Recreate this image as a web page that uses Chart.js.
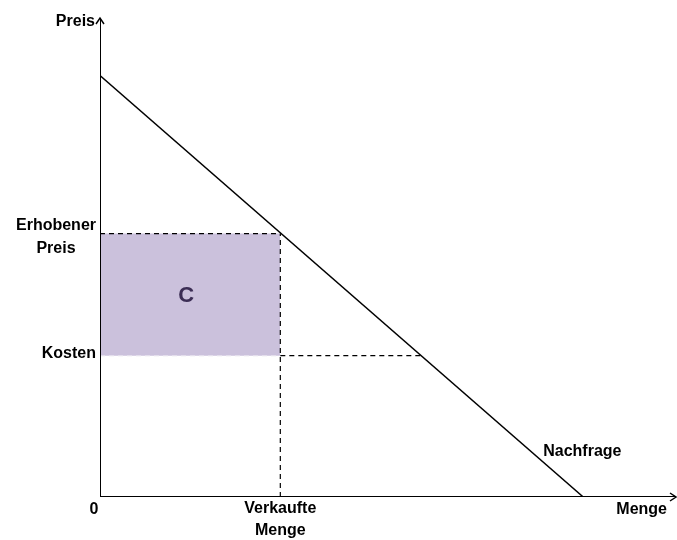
<!DOCTYPE html>
<html><head><meta charset="utf-8">
<script src="https://cdn.jsdelivr.net/npm/chart.js@4/dist/chart.umd.min.js"></script>
<style>html,body{margin:0;padding:0;background:#fff}#wrap{width:677px;height:540px}</style>
</head><body><div id="wrap"><canvas id="c" width="677" height="540"></canvas></div>
<script>
// Values (arbitrary units)
const axisMax = { q: 12, p: 10 };
const demandPriceIntercept = 8.8;
const demandQtyIntercept = 10.05;
const chargedPrice = 5.5;
const soldQty = 3.75;
const cost = 2.95;
const costQtyOnDemand = 6.68;
const yLabels = ["Erhobener\nPreis", "Kosten"];
const xLabels = ["0", "Verkaufte\nMenge"];
const axisTitles = { x: "Menge", y: "Preis" };
const curveLabel = "Nachfrage";
const areaLabel = "C";

const FONT = "'Liberation Sans', Arial, sans-serif";

const annotations = {
  id: 'annotations',
  afterDatasetsDraw(chart) {
    const ctx = chart.ctx, xs = chart.scales.x, ys = chart.scales.y;
    const X = v => xs.getPixelForValue(v), Y = v => ys.getPixelForValue(v);
    ctx.save();
    // arrowheads
    ctx.strokeStyle = '#000'; ctx.lineWidth = 1.5;
    const tx = X(0), ty = Y(axisMax.p);
    ctx.beginPath(); ctx.moveTo(tx - 4, ty + 6); ctx.lineTo(tx, ty); ctx.lineTo(tx + 4, ty + 6); ctx.stroke();
    const rx = X(axisMax.q) - 1, ry = Y(0);
    ctx.beginPath(); ctx.moveTo(rx - 6, ry - 4); ctx.lineTo(rx, ry); ctx.lineTo(rx - 6, ry + 4); ctx.stroke();

    ctx.fillStyle = '#000';
    ctx.font = "bold 16px " + FONT;
    ctx.textBaseline = 'middle';
    // y title
    ctx.textAlign = 'right';
    ctx.fillText(axisTitles.y, X(0) - 5, Y(axisMax.p) + 4);
    // y labels
    ctx.textAlign = 'center';
    const l1 = yLabels[0].split('\n');
    ctx.fillText(l1[0], X(0) - 44, Y(chargedPrice) - 8);
    ctx.fillText(l1[1], X(0) - 44, Y(chargedPrice) + 15);
    ctx.textAlign = 'right';
    ctx.fillText(yLabels[1], X(0) - 4, Y(cost) - 2);
    // x labels
    ctx.textAlign = 'center';
    ctx.fillText(xLabels[0], X(0) - 6, Y(0) + 13);
    const l2 = xLabels[1].split('\n');
    ctx.fillText(l2[0], X(soldQty), Y(0) + 12);
    ctx.fillText(l2[1], X(soldQty), Y(0) + 34);
    ctx.textAlign = 'right';
    ctx.fillText(axisTitles.x, X(axisMax.q) - 10, Y(0) + 13);
    ctx.textAlign = 'left';
    ctx.fillText(curveLabel, X(demandQtyIntercept) - 40, Y(0) - 45);
    // area label
    ctx.textAlign = 'center';
    ctx.fillStyle = '#3b2d54';
    ctx.font = "bold 22px " + FONT;
    ctx.fillText(areaLabel, X(soldQty / 2) - 4, Y((chargedPrice + cost) / 2) + 1);
    ctx.restore();
  }
};

new Chart(document.getElementById('c'), {
  type: 'line',
  data: {
    datasets: [
      { // area C
        data: [{x: 0, y: chargedPrice}, {x: soldQty, y: chargedPrice}],
        borderColor: 'rgba(0,0,0,0)', borderWidth: 0,
        backgroundColor: '#cbc1dc', fill: { value: cost }, pointRadius: 0, order: 10
      },
      { // bottom edge of C (light dashes)
        data: [{x: 0, y: cost}, {x: soldQty, y: cost}],
        borderColor: '#e4dfec', borderWidth: 1.2, borderDash: [5, 4], pointRadius: 0, fill: false, order: 9
      },
      { // charged price dashed
        data: [{x: 0, y: chargedPrice}, {x: soldQty, y: chargedPrice}],
        borderColor: '#000', borderWidth: 1.2, borderDash: [5, 4], pointRadius: 0, fill: false, order: 8
      },
      { // cost dashed to demand
        data: [{x: soldQty, y: cost}, {x: costQtyOnDemand, y: cost}],
        borderColor: '#000', borderWidth: 1.2, borderDash: [5, 4], pointRadius: 0, fill: false, order: 8
      },
      { // sold quantity dashed vertical
        data: [{x: soldQty, y: 0}, {x: soldQty, y: chargedPrice}],
        borderColor: '#000', borderWidth: 1.2, borderDash: [5, 4], pointRadius: 0, fill: false, order: 8
      },
      { // demand
        data: [{x: 0, y: demandPriceIntercept}, {x: demandQtyIntercept, y: 0}],
        borderColor: '#000', borderWidth: 1.5, pointRadius: 0, fill: false, order: 2
      },
      { // y axis
        data: [{x: 0, y: 0}, {x: 0, y: axisMax.p}],
        borderColor: '#000', borderWidth: 2, pointRadius: 0, fill: false, order: 1
      },
      { // x axis
        data: [{x: 0, y: 0}, {x: axisMax.q - 1 / 48, y: 0}],
        borderColor: '#000', borderWidth: 2, pointRadius: 0, fill: false, order: 1
      }
    ]
  },
  options: {
    responsive: false, animation: false,
    layout: { padding: { left: 100, right: 0, top: 18, bottom: 43 } },
    plugins: { legend: { display: false }, tooltip: { enabled: false } },
    scales: {
      x: { type: 'linear', min: 0, max: axisMax.q, display: false },
      y: { type: 'linear', min: 0, max: axisMax.p, display: false }
    },
    elements: { line: { tension: 0, borderCapStyle: 'butt' } }
  },
  plugins: [annotations]
});
</script>
</body></html>
